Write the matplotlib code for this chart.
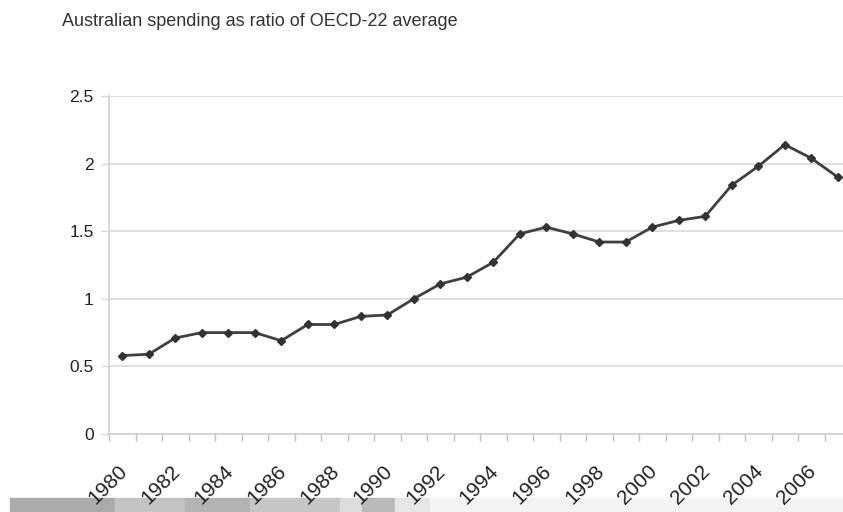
import matplotlib
matplotlib.use("Agg")
from matplotlib import pyplot as plt
from matplotlib.patches import Rectangle
from matplotlib.transforms import ScaledTranslation

# Australian spending as ratio of OECD-22 average, 1980-2007
years = list(range(1980, 2008))
ratio = [0.58, 0.59, 0.71, 0.75, 0.75, 0.75, 0.69, 0.81, 0.81, 0.87, 0.88,
         1.00, 1.11, 1.16, 1.27, 1.48, 1.53, 1.48, 1.42, 1.42, 1.53, 1.58,
         1.61, 1.84, 1.98, 2.14, 2.04, 1.90]
ytick_vals = [0, 0.5, 1, 1.5, 2, 2.5]
ytick_labels = ["0", "0.5", "1", "1.5", "2", "2.5"]

# grey background strip at the bottom of the screenshot (x0, x1, grey)
strip_x0 = [10, 115, 185, 250, 340, 362, 395, 430]
strip_x1 = [115, 185, 250, 340, 362, 395, 430, 843]
strip_col = ["#ababab", "#c3c3c3", "#b3b3b3", "#c6c6c6", "#dcdcdc", "#bababa", "#e6e6e6", "#f3f3f3"]

plt.rcParams['font.family'] = ['Liberation Sans', 'DejaVu Sans']

W, H = 843, 512
fig = plt.figure(figsize=(W / 100, H / 100), dpi=100)
fig.patch.set_facecolor("white")

for x0, x1, c in zip(strip_x0, strip_x1, strip_col):
    fig.patches.append(Rectangle((x0 / W, 0), (x1 - x0) / W, 14 / H,
                                 transform=fig.transFigure, color=c, zorder=-1))

ax = fig.add_axes([109 / W, (H - 434) / H, 742 / W, 338 / H])
ax.set_facecolor("none")
ax.set_zorder(2)

x = list(range(len(years)))
ax.plot(x, ratio, color="#404040", lw=2, marker="D", ms=4.5,
        markerfacecolor="#333333", markeredgecolor="#333333", zorder=3)

ax.set_xlim(-0.5, len(years) - 0.5)
ax.set_ylim(0, 2.5)

ax.set_yticks(ytick_vals)
ax.set_yticklabels(ytick_labels)
ax.yaxis.grid(True, color="#d9d9d9", lw=1.2)
ax.set_axisbelow(True)

ax.set_xticks(x[::2])
ax.set_xticklabels([str(y) for y in years[::2]], rotation=45, ha="right",
                   rotation_mode="anchor")
ax.set_xticks([i - 0.5 for i in range(len(years) + 1)], minor=True)
ax.tick_params(axis="x", which="major", length=0, pad=20, labelsize=15,
               labelcolor="#222222")
ax.tick_params(axis="x", which="minor", length=5, color="#bfbfbf", width=1)
ax.tick_params(axis="y", length=6, color="#d9d9d9", width=1, pad=5,
               labelsize=12.5, labelcolor="#222222")

# nudge the year labels a little to the left
shift = ScaledTranslation(-5 / 100, 0, fig.dpi_scale_trans)
for lbl in ax.get_xticklabels():
    lbl.set_transform(lbl.get_transform() + shift)

for s in ["top", "right"]:
    ax.spines[s].set_visible(False)
ax.spines["left"].set_color("#d0d0d0")
ax.spines["bottom"].set_color("#d0d0d0")
ax.spines["left"].set_linewidth(1.2)
ax.spines["bottom"].set_linewidth(1.2)

fig.text(62 / W, 1 - 22 / H, "Australian spending as ratio of OECD-22 average",
         fontsize=13, color="#333333", va="center", ha="left")

fig.savefig("out.png", dpi=100)
